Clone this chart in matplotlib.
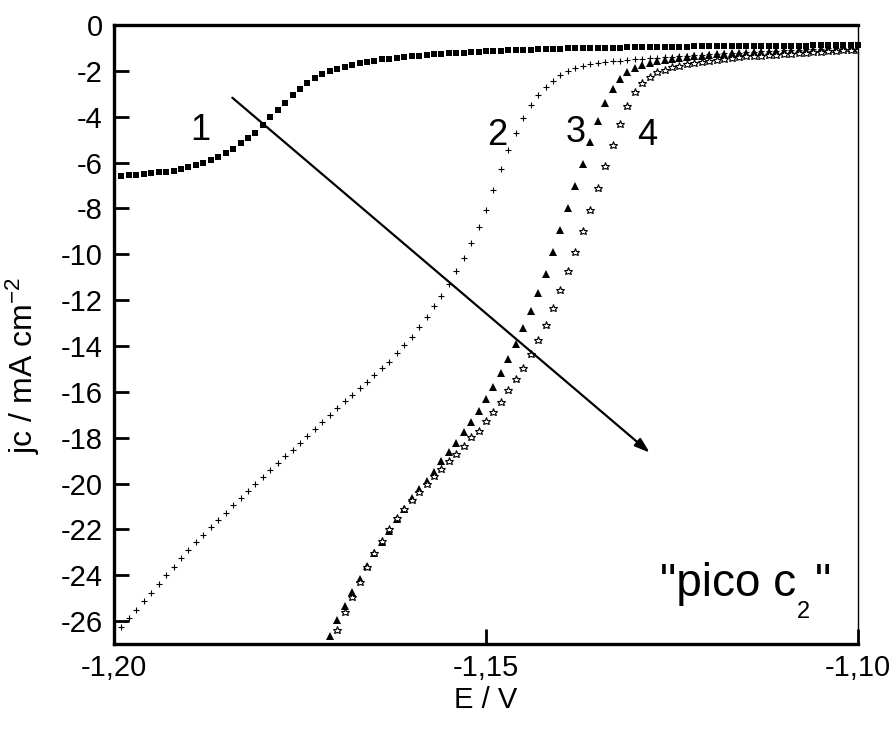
import matplotlib
matplotlib.use('Agg')
import matplotlib.pyplot as plt
from matplotlib.ticker import FixedLocator, FuncFormatter

plt.rcParams['font.family'] = ['Liberation Sans', 'DejaVu Sans']
plt.rcParams['mathtext.fontset'] = 'custom'
plt.rcParams['mathtext.rm'] = 'Liberation Sans'
plt.rcParams['mathtext.it'] = 'Liberation Sans'
plt.rcParams['axes.unicode_minus'] = False

# potential grid (V)
E = [-1.199, -1.198, -1.197, -1.196, -1.195, -1.194, -1.193, -1.192, -1.191, -1.190,
     -1.189, -1.188, -1.187, -1.186, -1.185, -1.184, -1.183, -1.182, -1.181, -1.180,
     -1.179, -1.178, -1.177, -1.176, -1.175, -1.174, -1.173, -1.172, -1.171, -1.170,
     -1.169, -1.168, -1.167, -1.166, -1.165, -1.164, -1.163, -1.162, -1.161, -1.160,
     -1.159, -1.158, -1.157, -1.156, -1.155, -1.154, -1.153, -1.152, -1.151, -1.150,
     -1.149, -1.148, -1.147, -1.146, -1.145, -1.144, -1.143, -1.142, -1.141, -1.140,
     -1.139, -1.138, -1.137, -1.136, -1.135, -1.134, -1.133, -1.132, -1.131, -1.130,
     -1.129, -1.128, -1.127, -1.126, -1.125, -1.124, -1.123, -1.122, -1.121, -1.120,
     -1.119, -1.118, -1.117, -1.116, -1.115, -1.114, -1.113, -1.112, -1.111, -1.110,
     -1.109, -1.108, -1.107, -1.106, -1.105, -1.104, -1.103, -1.102, -1.101, -1.100]

# curve 1 (squares)
j1 = [-6.57, -6.55, -6.52, -6.49, -6.47, -6.43, -6.39, -6.35, -6.26, -6.20,
      -6.10, -6.00, -5.88, -5.77, -5.60, -5.39, -5.16, -4.94, -4.71, -4.38,
      -4.03, -3.71, -3.38, -3.07, -2.80, -2.55, -2.33, -2.15, -2.01, -1.90,
      -1.81, -1.74, -1.67, -1.61, -1.55, -1.50, -1.46, -1.42, -1.39, -1.36,
      -1.33, -1.30, -1.28, -1.26, -1.24, -1.22, -1.20, -1.18, -1.16, -1.15,
      -1.13, -1.12, -1.10, -1.09, -1.08, -1.07, -1.06, -1.05, -1.04, -1.03,
      -1.02, -1.01, -1.00, -1.00, -0.99, -0.99, -0.98, -0.98, -0.97, -0.97,
      -0.96, -0.96, -0.95, -0.95, -0.94, -0.94, -0.94, -0.93, -0.93, -0.93,
      -0.92, -0.92, -0.92, -0.92, -0.91, -0.91, -0.91, -0.91, -0.90, -0.90,
      -0.90, -0.90, -0.90, -0.89, -0.89, -0.89, -0.89, -0.89, -0.88, -0.88]

# curve 2 (crosses)
j2 = [-26.27, -25.88, -25.52, -25.14, -24.77, -24.38, -23.97, -23.62, -23.23, -22.91,
      -22.57, -22.24, -21.91, -21.59, -21.27, -20.95, -20.64, -20.33, -20.02, -19.72,
      -19.42, -19.12, -18.82, -18.52, -18.22, -17.92, -17.62, -17.32, -17.02, -16.72,
      -16.42, -16.13, -15.84, -15.55, -15.26, -14.97, -14.68, -14.32, -13.96, -13.62,
      -13.16, -12.75, -12.26, -11.80, -11.30, -10.75, -10.15, -9.50, -8.80, -8.05,
      -7.20, -6.30, -5.45, -4.70, -4.05, -3.50, -3.07, -2.72, -2.42, -2.17,
      -2.00, -1.88, -1.78, -1.71, -1.67, -1.63, -1.59, -1.55, -1.51, -1.48,
      -1.46, -1.44, -1.42, -1.40, -1.38, -1.36, -1.34, -1.32, -1.30, -1.28,
      -1.26, -1.24, -1.22, -1.20, -1.18, -1.17, -1.15, -1.13, -1.12, -1.10,
      -1.09, -1.07, -1.06, -1.05, -1.03, -1.02, -1.01, -1.00, -0.99, -0.98]

# curve 3 (triangles), starts at E[28]
j3 = [-26.67, -25.97, -25.33, -24.73, -24.15, -23.60, -23.05, -22.55, -22.05, -21.55,
      -21.10, -20.65, -20.26, -19.90, -19.50, -19.03, -18.62, -18.23, -17.77, -17.32,
      -16.83, -16.32, -15.80, -15.16, -14.58, -13.93, -13.23, -12.48, -11.70, -10.85,
      -9.92, -8.96, -7.99, -7.03, -6.06, -5.12, -4.20, -3.42, -2.80, -2.36,
      -2.04, -1.86, -1.74, -1.64, -1.57, -1.52, -1.48, -1.42, -1.39, -1.36,
      -1.33, -1.30, -1.28, -1.26, -1.23, -1.22, -1.20, -1.19, -1.17, -1.16,
      -1.14, -1.13, -1.12, -1.10, -1.09, -1.08, -1.06, -1.05, -1.03, -1.02,
      -1.00, -0.98]

# curve 4 (stars), starts at E[29]
j4 = [-26.38, -25.62, -24.97, -24.29, -23.65, -23.05, -22.50, -21.98, -21.50, -21.10,
      -20.72, -20.38, -20.04, -19.68, -19.35, -19.00, -18.70, -18.35, -17.99, -17.70,
      -17.29, -16.90, -16.45, -15.94, -15.45, -14.94, -14.35, -13.74, -13.09, -12.33,
      -11.55, -10.74, -9.89, -9.00, -8.06, -7.12, -6.17, -5.22, -4.32, -3.55,
      -2.94, -2.54, -2.25, -2.07, -1.96, -1.85, -1.78, -1.71, -1.67, -1.62,
      -1.57, -1.52, -1.49, -1.45, -1.39, -1.37, -1.35, -1.33, -1.31, -1.29,
      -1.27, -1.25, -1.23, -1.21, -1.19, -1.17, -1.15, -1.13, -1.11, -1.09,
      -1.07]

curve_labels = ['1', '2', '3', '4']
label_pos = [(-1.1884, -4.6), (-1.1485, -4.8), (-1.1380, -4.7), (-1.1284, -4.8)]
arrow_start = (-1.1841, -3.17)
arrow_end = (-1.1280, -18.65)

fig = plt.figure(figsize=(8.95, 7.32), dpi=100)
ax = fig.add_axes([0.1274, 0.1202, 0.8313, 0.8456])

ax.plot(E, j1, ls='none', marker='s', ms=3.8, mfc='black', mec='black', mew=0, clip_on=False)
ax.plot(E, j2, ls='none', marker='+', ms=5, mec='black', mew=0.8)
ax.plot(E[28:], j3, ls='none', marker='^', ms=5.4, mfc='black', mec='black', mew=0)
ax.plot(E[29:], j4, ls='none', marker='*', ms=6.2, mfc='white', mec='black', mew=0.8)

ax.annotate('', xy=arrow_end, xytext=arrow_start,
            arrowprops=dict(arrowstyle='-|>,head_length=0.9,head_width=0.3',
                            color='black', lw=1.6, shrinkA=0, shrinkB=0))

for lab, (x, y) in zip(curve_labels, label_pos):
    ax.text(x, y, lab, fontsize=26, ha='center', va='center')

# "pico c2" with a low, small subscript
ax.text(-1.1266, -24.91, '"pico c', fontsize=33, ha='left', va='baseline')
ax.text(-1.1082, -25.85, '2', fontsize=17, ha='left', va='baseline')
ax.text(-1.1058, -24.91, '"', fontsize=33, ha='left', va='baseline')

ax.set_xlim(-1.20, -1.10)
ax.set_ylim(-27, 0)
ax.xaxis.set_major_locator(FixedLocator([-1.20, -1.15, -1.10]))
ax.yaxis.set_major_locator(FixedLocator(list(range(0, -28, -2))))
ax.xaxis.set_major_formatter(FuncFormatter(lambda v, p: ('%.2f' % v).replace('.', ',')))
ax.yaxis.set_major_formatter(FuncFormatter(lambda v, p: '%d' % round(v)))
ax.tick_params(axis='both', direction='in', labelsize=21, width=2, length=11)
ax.tick_params(axis='y', pad=8)
ax.tick_params(axis='x', pad=7)
ax.tick_params(top=False, right=False)

for side in ['left', 'bottom', 'top']:
    ax.spines[side].set_linewidth(2.4)
ax.spines['right'].set_linewidth(1.0)

ax.set_xlabel('E / V', fontsize=21, labelpad=3)
ax.set_ylabel('jc / mA cm$^{-2}$', fontsize=23)
ax.yaxis.set_label_coords(-0.097, 0.45)

fig.savefig('out.png', dpi=100)
